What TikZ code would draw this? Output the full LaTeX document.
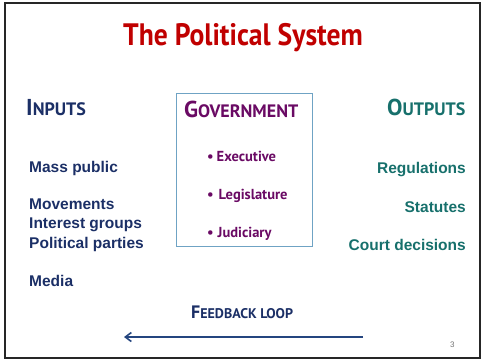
\documentclass[tikz,border=0pt]{standalone}
\usepackage{fontspec}
\setmainfont{Liberation Sans}
\newfontfamily\headfont{PT Sans}
\usepackage{tikz}
\usetikzlibrary{arrows.meta, positioning}

\definecolor{titlered}{HTML}{C00000}
\definecolor{navy}{HTML}{1B2F66}
\definecolor{govpurple}{HTML}{6A0A64}
\definecolor{outteal}{HTML}{17706C}
\definecolor{boxblue}{HTML}{6FA3C4}
\definecolor{arrowblue}{HTML}{24457F}

\newcommand{\fakesc}[3]{{\fontsize{#1}{#1}\selectfont #2}{\fontsize{\numexpr#1*78/100\relax}{#1}\selectfont #3}}

\begin{document}
\begin{tikzpicture}[
            x=1pt, y=-1pt,
            heading/.style={anchor=base west, inner sep=0pt, font=\headfont\bfseries},
            inlist/.style={anchor=base west, inner sep=0pt, font=\fontsize{15.5}{18}\selectfont\bfseries, text=navy},
            outlist/.style={anchor=base east, inner sep=0pt, font=\fontsize{15.5}{18}\selectfont\bfseries, text=outteal},
            branch/.style={anchor=base west, inner sep=0pt, font=\headfont\fontsize{14.5}{17}\selectfont\bfseries, text=govpurple},
            govframe/.style={draw=boxblue, line width=0.9pt, rectangle, inner sep=0pt},
            arrow/.style={-{Straight Barb[length=6pt, width=9pt, line width=1.6pt]}, line width=1.6pt, draw=arrowblue}
        ]

        % page and frame
        \useasboundingbox (0,0) rectangle (486,360);
        \draw[line width=2pt, black!85] (5,3) rectangle (480,358);

        \node[anchor=base, inner sep=0pt, font=\headfont\fontsize{31}{31}\selectfont\bfseries, text=titlered] (title) at (243,45) {\scalebox{0.89}[1]{The Political System}};

        % inputs
        \node[heading, text=navy] (inputs) at (26,115) {\fakesc{23}{I}{NPUTS}};
        \node[inlist] (masspub) at (29,172) {Mass public};
        \node[inlist] (movements) at (29,209) {Movements};
        \node[inlist] (interest) at (29,228.5) {Interest groups};
        \node[inlist] (parties) at (29,248) {Political parties};
        \node[inlist] (media) at (29,286) {Media};

        % government
        \node[govframe, minimum width=136pt, minimum height=153pt] (govbox) at (244,169.5) {};
        \node[heading, text=govpurple] (govt) at (184,117) {\fakesc{23}{G}{OVERNMENT}};
        \node[branch] (exec) at (207,161) {\textbullet\hspace{3pt}Executive};
        \node[branch] (legis) at (207,199) {\textbullet\hspace{5pt}Legislature};
        \node[branch] (judic) at (207,237) {\textbullet\hspace{4pt}Judiciary};

        % outputs
        \node[heading, text=outteal] (outputs) at (387,115) {\fakesc{23}{O}{UTPUTS}};
        \node[outlist] (regs) at (466,173) {Regulations};
        \node[outlist] (statutes) at (466,212) {Statutes};
        \node[outlist] (courts) at (466,250) {Court decisions};

        % feedback
        \node[heading, text=navy] (feedback) at (191,318) {\fakesc{18}{F}{EEDBACK LOOP}};
        \coordinate (fbstart) at (363,337);
        \coordinate (fbend) at (124,337);
        \draw[arrow] (fbstart) -- (fbend);

        \node[anchor=base west, inner sep=0pt, font=\fontsize{8}{8}\selectfont, text=black!55] (pagenum) at (450,347) {3};

        \end{tikzpicture}
\end{document}
